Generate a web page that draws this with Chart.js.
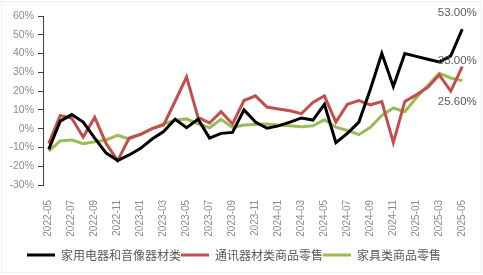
<!DOCTYPE html>
<html>
<head>
<meta charset="utf-8">
<script src="https://cdn.jsdelivr.net/npm/chart.js@4/dist/chart.umd.min.js"></script>
<style>
  html, body { margin: 0; padding: 0; background: #fff; }
  canvas { display: block; }
</style>
</head>
<body>
<canvas id="retailChart" width="483" height="275"></canvas>
<script>
// 月份标签（2022-05 至 2025-05）
const months = [
  '2022-05','2022-06','2022-07','2022-08','2022-09','2022-10','2022-11','2022-12',
  '2023-01','2023-02','2023-03','2023-04','2023-05','2023-06','2023-07','2023-08',
  '2023-09','2023-10','2023-11','2023-12','2024-01','2024-02','2024-03','2024-04',
  '2024-05','2024-06','2024-07','2024-08','2024-09','2024-10','2024-11','2024-12',
  '2025-01','2025-02','2025-03','2025-04','2025-05'
];

// 同比增速 (%)
const appliances = [-11, 4, 7.5, 3.5, -5, -13, -17, -14, -10.5, -5.5, -1.5, 5, 0.5, 5, -5, -2.5,
  -2, 10, 3.5, 0.2, 1.5, 3.5, 5.7, 4.6, 13, -7.5, -2.5, 3.5, 21, 40, 22.5, 40,
  38.5, 37, 35.5, 38.8, 53];
const telecom = [-8, 7, 5.5, -4.5, 6, -8, -17, -5, -3, 0, 2, 14.6, 27.5, 6, 3, 9,
  2.5, 15, 17.5, 11.5, 10.5, 9.5, 8, 14, 17.5, 3.5, 13, 15, 12.7, 14.4, -7.5, 14.5,
  18, 22, 28.6, 20, 33];
const furniture = [-12, -6.5, -6, -8, -7, -6, -3.5, -5.5, -3, 0, 2.5, 4.5, 5.2, 2.5, 0.5, 5,
  0.7, 2, 2.2, 2.5, 2, 1.5, 1, 1.5, 4.7, 0.8, -1, -3.2, 0.7, 7, 11, 9,
  16.5, 23, 29.5, 27, 25.6];

const yTicks = [-30, -20, -10, 0, 10, 20, 30, 40, 50, 60];

// 最后一个点的数值标签
const lastLabel = {
  id: 'lastLabel',
  afterDatasetsDraw(chart) {
    const ctx = chart.ctx;
    const shift = [-16, -6, 21];
    ctx.save();
    ctx.font = '11.5px "Liberation Sans", Arial, sans-serif';
    ctx.fillStyle = '#595959';
    ctx.textAlign = 'center';
    ctx.textBaseline = 'middle';
    chart.data.datasets.forEach((ds, i) => {
      const pts = chart.getDatasetMeta(i).data;
      const p = pts[pts.length - 1];
      ctx.fillText(ds.data[ds.data.length - 1].toFixed(2) + '%', p.x - 5, p.y + shift[i]);
    });
    ctx.restore();
  },
  afterDraw(chart) {
    const ctx = chart.ctx;
    ctx.save();
    ctx.strokeStyle = '#efefef';
    ctx.lineWidth = 1;
    ctx.strokeRect(1.5, 1.5, 480, 271);
    ctx.restore();
  }
};

new Chart(document.getElementById('retailChart').getContext('2d'), {
  type: 'line',
  data: {
    labels: months,
    datasets: [
      { label: '家用电器和音像器材类', data: appliances, borderColor: '#000000', backgroundColor: '#000000' },
      { label: '通讯器材类商品零售', data: telecom, borderColor: '#c0504d', backgroundColor: '#c0504d' },
      { label: '家具类商品零售', data: furniture, borderColor: '#9bbb59', backgroundColor: '#9bbb59' }
    ]
  },
  options: {
    responsive: false,
    devicePixelRatio: 1,
    animation: false,
    layout: { padding: { top: 16, right: 15, bottom: 4, left: 0 } },
    elements: {
      line: { borderWidth: 3, tension: 0 },
      point: { radius: 0 }
    },
    scales: {
      x: {
        offset: true,
        grid: { display: false },
        border: { display: false },
        ticks: {
          autoSkip: false,
          maxRotation: 90,
          minRotation: 90,
          padding: 7,
          color: '#8c8c8c',
          font: { size: 10, family: '"Liberation Sans", Arial, sans-serif' },
          callback: (v, i) => (i % 2 === 0 ? months[i] : '')
        },
        afterFit: s => { s.height = 64; }
      },
      y: {
        min: yTicks[0],
        max: yTicks[yTicks.length - 1],
        afterBuildTicks: s => { s.ticks = yTicks.map(v => ({ value: v })); },
        grid: { drawOnChartArea: false, drawTicks: true, tickLength: 5, color: '#404040' },
        border: { display: true, color: '#404040', width: 1 },
        ticks: {
          padding: 4,
          color: '#8c8c8c',
          font: { size: 10.5, family: '"Liberation Sans", Arial, sans-serif' },
          callback: v => v + '%'
        },
        afterFit: s => { s.width = 43; }
      }
    },
    plugins: {
      tooltip: { enabled: false },
      legend: {
        position: 'bottom',
        labels: {
          boxWidth: 28,
          boxHeight: 3,
          padding: 0,
          color: '#595959',
          font: { size: 12, family: '"Noto Sans CJK SC", sans-serif' },
          generateLabels: chart => Chart.defaults.plugins.legend.labels.generateLabels(chart)
            .map(l => Object.assign(l, { lineWidth: 0, fillStyle: l.strokeStyle }))
        }
      }
    }
  },
  plugins: [lastLabel]
});
</script>
</body>
</html>
